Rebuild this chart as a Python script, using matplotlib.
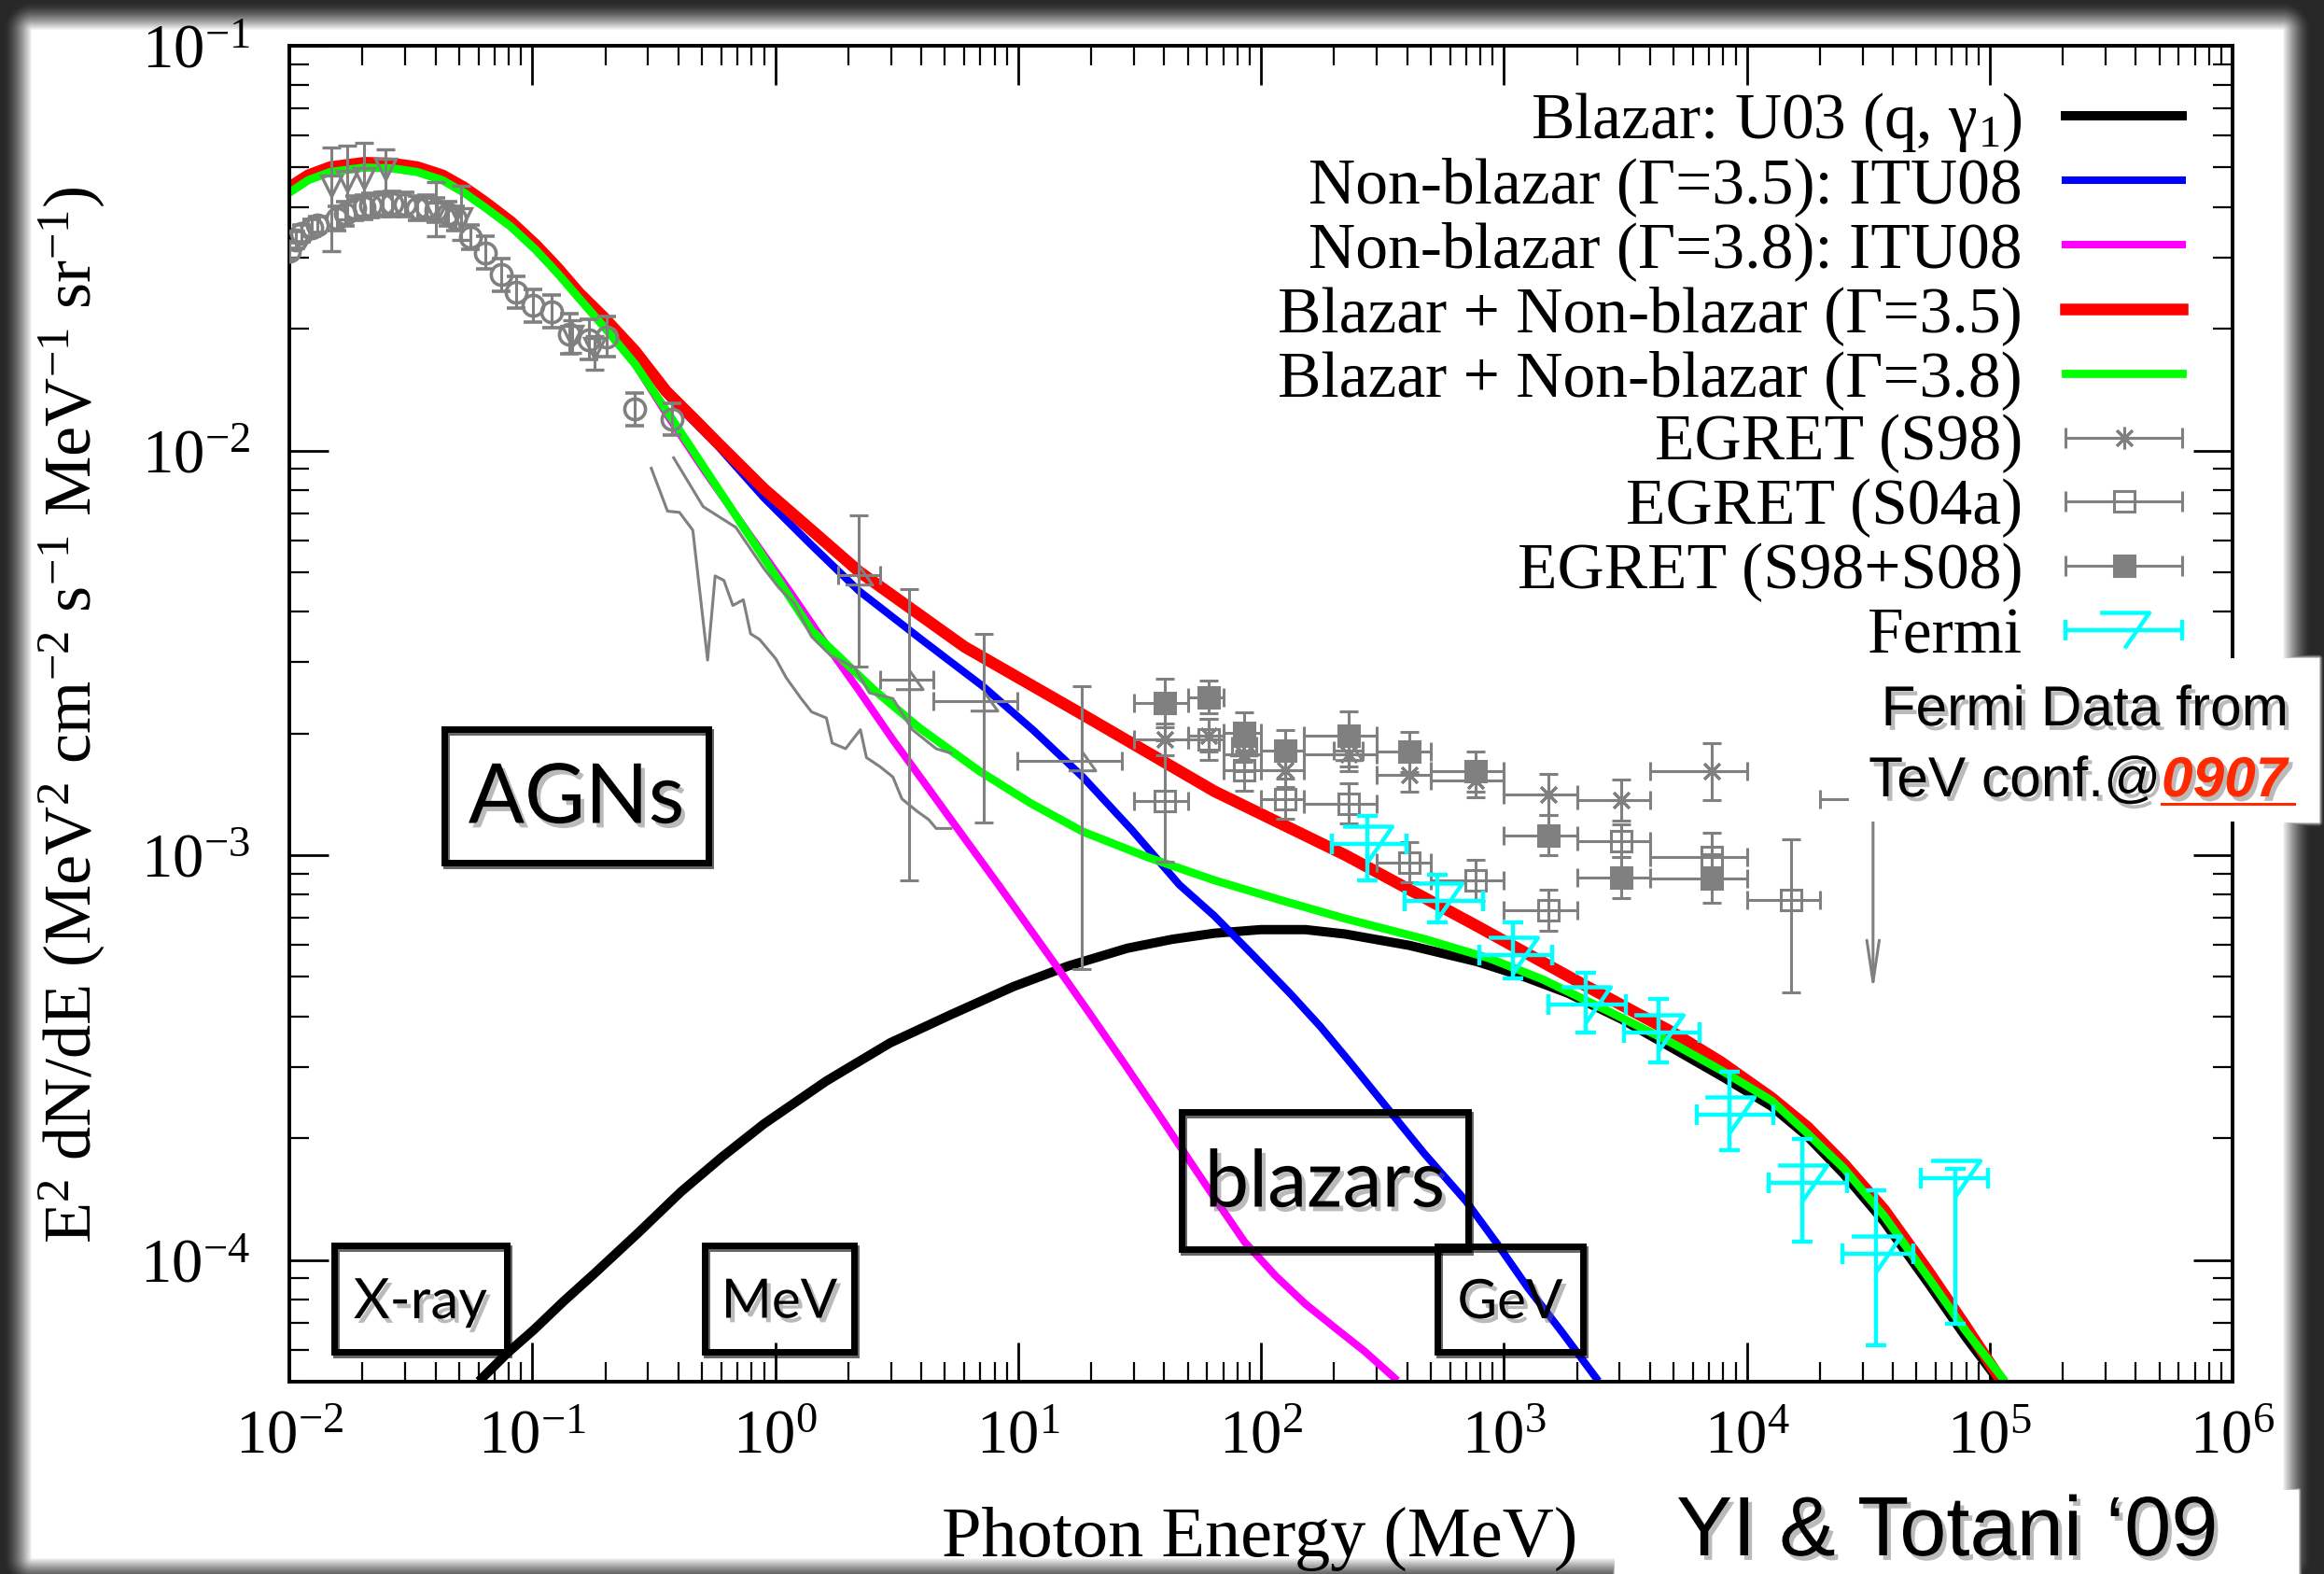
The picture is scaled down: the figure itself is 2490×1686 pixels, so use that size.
import numpy as np
import matplotlib as mpl
mpl.use('Agg')
import matplotlib.pyplot as plt
import matplotlib.patheffects as pe
from matplotlib.patches import Rectangle
from matplotlib.lines import Line2D
from matplotlib.ticker import LogFormatterMathtext, NullFormatter

plt.rcParams['font.family'] = ['Liberation Serif', 'DejaVu Serif']
plt.rcParams['mathtext.fontset'] = 'custom'
plt.rcParams['mathtext.rm'] = 'Liberation Serif'
plt.rcParams['mathtext.it'] = 'Liberation Serif:italic'
plt.rcParams['mathtext.bf'] = 'Liberation Serif:bold'

# ---- values: log10 E [MeV], log10 E^2 dN/dE ----
blazar_logE = [-1.206, -1.102, -0.992, -0.870, -0.748, -0.565, -0.388, -0.217, -0.046, 0.211,
               0.473, 0.724, 0.980, 1.206, 1.450, 1.634, 1.808, 2.000, 2.183, 2.348, 2.611,
               2.889, 3.087, 3.264, 3.484, 3.698, 3.899, 4.101, 4.247, 4.400, 4.565, 4.748,
               4.901, 5.029]
blazar_logF = [-4.292, -4.230, -4.172, -4.102, -4.036, -3.934, -3.832, -3.745, -3.664, -3.558,
               -3.464, -3.394, -3.325, -3.274, -3.230, -3.208, -3.193, -3.184, -3.184, -3.195,
               -3.223, -3.263, -3.301, -3.341, -3.405, -3.478, -3.547, -3.620, -3.693, -3.788,
               -3.905, -4.058, -4.190, -4.292]

top35_logE = [-2.000, -1.922, -1.832, -1.691, -1.576, -1.473, -1.370, -1.281, -1.191, -1.088,
              -0.986, -0.896, -0.807, -0.704]
top35_logF = [-1.350, -1.320, -1.300, -1.289, -1.291, -1.300, -1.320, -1.350, -1.388, -1.435,
              -1.492, -1.549, -1.611, -1.672]

nb35_logE = top35_logE + [-0.576, -0.448, -0.242, -0.046, 0.150, 0.345, 0.602, 0.858, 1.066,
                          1.267, 1.469, 1.664, 1.808, 1.969, 2.122, 2.244, 2.366, 2.519,
                          2.672, 2.843, 2.977, 3.099, 3.240, 3.380]
nb35_logF = top35_logF + [-1.763, -1.861, -1.985, -2.117, -2.234, -2.347, -2.467, -2.584,
                          -2.693, -2.807, -2.938, -3.073, -3.150, -3.248, -3.343, -3.423,
                          -3.511, -3.624, -3.737, -3.854, -3.964, -4.069, -4.179, -4.292]

sum35_logE = top35_logE + [-0.576, -0.448, -0.319, -0.242, -0.046, 0.150, 0.345, 0.779, 1.267,
                           1.808, 2.348, 2.889, 3.319, 3.698, 3.893, 4.101, 4.250, 4.400,
                           4.565, 4.748, 4.901, 5.041]
sum35_logF = top35_logF + [-1.755, -1.854, -1.931, -1.978, -2.095, -2.197, -2.299, -2.485,
                           -2.653, -2.842, -3.000, -3.175, -3.317, -3.439, -3.511, -3.599,
                           -3.672, -3.763, -3.876, -4.029, -4.164, -4.292]

top38_logE = [-2.000, -1.922, -1.832, -1.691, -1.576, -1.473, -1.370, -1.281, -1.191, -1.088,
              -0.986, -0.896, -0.807, -0.704, -0.576]
top38_logF = [-1.363, -1.332, -1.312, -1.301, -1.303, -1.312, -1.332, -1.363, -1.401, -1.447,
              -1.504, -1.562, -1.624, -1.695, -1.787]

nb38_logE = top38_logE + [-0.448, -0.290, -0.101, 0.046, 0.192, 0.339, 0.485, 0.614, 0.742,
                          0.919, 1.145, 1.298, 1.450, 1.573, 1.695, 1.817, 1.933, 2.061,
                          2.183, 2.305, 2.427, 2.550]
nb38_logF = top38_logF + [-1.909, -2.051, -2.212, -2.336, -2.464, -2.588, -2.715, -2.821,
                          -2.927, -3.073, -3.263, -3.394, -3.526, -3.635, -3.745, -3.854,
                          -3.956, -4.040, -4.109, -4.168, -4.226, -4.292]

sum38_logE = top38_logE + [-0.448, -0.046, 0.150, 0.406, 0.595, 0.840, 1.053, 1.267, 1.542,
                           1.808, 2.092, 2.348, 2.672, 2.941, 3.160, 3.435, 3.698, 3.899,
                           4.101, 4.247, 4.400, 4.565, 4.748, 4.901, 5.053]
sum38_logF = top38_logF + [-1.901, -2.266, -2.445, -2.591, -2.686, -2.792, -2.872, -2.942,
                           -3.007, -3.062, -3.113, -3.157, -3.207, -3.255, -3.307, -3.387,
                           -3.466, -3.533, -3.606, -3.686, -3.774, -3.891, -4.044, -4.175,
                           -4.292]

# X-ray background points (open circles)
xray_logE = [-2.000, -1.973, -1.951, -1.909, -1.884, -1.805, -1.768, -1.731, -1.691, -1.664,
             -1.614, -1.579, -1.524, -1.475, -1.434, -1.395, -1.345, -1.316, -1.255, -1.194,
             -1.127, -1.066, -0.998, -0.919, -0.846, -0.766, -0.693, -0.577, -0.424]
xray_logF = [-1.507, -1.480, -1.464, -1.450, -1.442, -1.427, -1.415, -1.401, -1.400, -1.394,
             -1.392, -1.391, -1.392, -1.401, -1.400, -1.405, -1.415, -1.427, -1.474, -1.511,
             -1.566, -1.609, -1.642, -1.657, -1.712, -1.726, -1.719, -1.898, -1.923]
xray_err = [0.02, 0.02, 0.02, 0.02, 0.02, 0.03, 0.03, 0.03, 0.03, 0.03,
            0.03, 0.03, 0.03, 0.03, 0.03, 0.03, 0.03, 0.03, 0.03, 0.04,
            0.04, 0.04, 0.04, 0.04, 0.05, 0.05, 0.05, 0.04, 0.04]

# hard X-ray points (open down triangles)
hx_logE = [-1.826, -1.762, -1.691, -1.603, -1.395, -1.294, -0.834, -0.742]
hx_logF = [-1.346, -1.335, -1.327, -1.304, -1.412, -1.427, -1.718, -1.748]
hx_hi = [-1.251, -1.247, -1.239, -1.255, -1.336, -1.347, -1.679, -1.718]
hx_lo = [-1.507, -1.430, -1.420, -1.360, -1.470, -1.480, -1.760, -1.800]

# MeV spectra (gray lines)
smm_logE = [-0.510, -0.443, -0.394, -0.339, -0.278, -0.247, -0.211, -0.174, -0.131, -0.101,
            -0.064, 0.003, 0.046, 0.107, 0.150, 0.211, 0.235, 0.290, 0.351, 0.376, 0.431,
            0.485, 0.522, 0.583, 0.632, 0.663, 0.724]
smm_logF = [-2.044, -2.150, -2.153, -2.197, -2.518, -2.310, -2.321, -2.383, -2.369, -2.453,
            -2.467, -2.515, -2.562, -2.613, -2.646, -2.661, -2.723, -2.737, -2.690, -2.759,
            -2.781, -2.807, -2.861, -2.891, -2.912, -2.934, -2.934]
comptel_line_logE = [-0.418, -0.296, -0.162, -0.046, 0.015, 0.076, 0.150, 0.229, 0.327, 0.388,
                     0.485, 0.565, 0.663, 0.724]
comptel_line_logF = [-2.018, -2.139, -2.190, -2.292, -2.339, -2.376, -2.460, -2.507, -2.536,
                     -2.599, -2.613, -2.690, -2.737, -2.748]

# COMPTEL points (open up triangles)
comptel_logE = [0.345, 0.550, 0.858, 1.261, 1.927, 2.360]
comptel_logF = [-2.308, -2.566, -2.620, -2.768, -2.730, -2.741]
comptel_hi = [-2.161, -2.343, -2.453, -2.582, -2.690, -2.700]
comptel_lo = [-2.533, -3.062, -2.920, -3.281, -2.770, -2.780]
comptel_xlo = [0.260, 0.431, 0.650, 0.998, 1.880, 2.300]
comptel_xhi = [0.431, 0.650, 0.998, 1.426, 1.980, 2.420]

# EGRET energy bins [MeV]
egret_lo = [30, 50, 70, 100, 150, 300, 500, 1000, 2000, 4000, 10000, 20000]
egret_hi = [50, 70, 100, 150, 300, 500, 1000, 2000, 4000, 10000, 20000, 50000]
egret_logE = [1.603, 1.786, 1.930, 2.100, 2.362, 2.610, 2.882, 3.185, 3.482, 3.854, 4.183, 4.520]

s98_logF = [-2.714, -2.704, -2.752, -2.791, -2.752, -2.802, -2.816, -2.850, -2.864, -2.793]
s98_err = [0.04, 0.04, 0.04, 0.04, 0.04, 0.04, 0.04, 0.05, 0.05, 0.07]
s98_ul_logF = -2.861      # last bin, drawn as upper limit
s98_ul_end = -3.343

s04_logF = [-2.867, -2.714, -2.791, -2.861, -2.872, -3.018, -3.062, -3.136, -2.965, -3.004, -3.110]
s04_lo = [0.15, 0.05, 0.05, 0.05, 0.05, 0.05, 0.05, 0.05, 0.04, 0.06, 0.23]
s04_hi = [0.15, 0.05, 0.05, 0.05, 0.05, 0.05, 0.05, 0.05, 0.04, 0.06, 0.15]

s08_logF = [-2.624, -2.609, -2.697, -2.741, -2.705, -2.745, -2.793, -2.951, -3.055, -3.057]
s08_err = [0.06, 0.04, 0.05, 0.05, 0.06, 0.05, 0.05, 0.05, 0.05, 0.06]

# Fermi points
fermi_logE = [2.437, 2.726, 3.036, 3.339, 3.635, 3.930, 4.229, 4.534, 4.858]
fermi_logF = [-2.973, -3.114, -3.246, -3.369, -3.439, -3.642, -3.810, -3.985, -3.799]
fermi_lo = [-3.062, -3.167, -3.304, -3.439, -3.511, -3.730, -3.956, -4.212, -4.157]
fermi_hi = [-2.904, -3.049, -3.167, -3.290, -3.356, -3.536, -3.701, -3.828, -3.774]
fermi_xlo = [2.293, 2.591, 2.901, 3.185, 3.495, 3.795, 4.089, 4.394, 4.718]
fermi_xhi = [2.598, 2.915, 3.197, 3.502, 3.806, 4.111, 4.412, 4.687, 4.992]

GRAY = '#808080'
CYAN = '#00ffff'

W, H = 2490, 1686
fig = plt.figure(figsize=(W / 100, H / 100), dpi=100)

# slide background with dark vignetted frame
yy, xx = np.mgrid[0:H, 0:W]
def soft_box(x0, x1, y0, y1, soft):
    dx = np.clip(np.maximum(x0 - xx, xx - x1), 0, None)
    dy = np.clip(np.maximum(y0 - yy, yy - y1), 0, None)
    return np.clip(1 - np.hypot(dx, dy) / soft, 0, 1)
light = np.maximum.reduce([soft_box(34, 2445, 32, 1668, 30),
                           soft_box(1981, 2484, 705, 880, 5),
                           soft_box(1730, 2462, 1596, 1700, 5)])
shade = 0.16 + 0.84 * light ** 1.5
fig.figimage(np.dstack([shade] * 3), 0, 0, origin='upper', zorder=-10)

ax = fig.add_axes([310 / W, 1 - 1480 / H, 2082 / W, 1431 / H])
ax.patch.set_visible(False)
ax.set_xscale('log')
ax.set_yscale('log')
xmin, xmax, ymin, ymax = 1e-2, 1e6, 5e-5, 1e-1
ax.set_xlim(xmin, xmax)
ax.set_ylim(ymin, ymax)


def P(a):
    return 10 ** np.asarray(a, float)


# model curves
ax.plot(P(blazar_logE), P(blazar_logF), color='black', lw=7.2, zorder=2)
ax.plot(P(nb35_logE), P(nb35_logF), color='#0000ff', lw=5.8, zorder=2.1)
ax.plot(P(nb38_logE), P(nb38_logF), color='#ff00ff', lw=5.8, zorder=2.2)
ax.plot(P(sum35_logE), P(sum35_logF), color='#ff0000', lw=9, zorder=2.3)
ax.plot(P(sum38_logE), P(sum38_logF), color='#00ff00', lw=6.3, zorder=2.4)

# data
ebkw = dict(ecolor=GRAY, elinewidth=2.2, capsize=7.5, capthick=2.2, zorder=3)
tri_up = [(-1, -0.7), (1, -0.7), (0, 0.7)]
tri_dn = [(-1, 0.72), (1, 0.72), (0, -0.72)]

F = P(xray_logF)
ax.errorbar(P(xray_logE), F, yerr=[F - F / P(xray_err), F * P(xray_err) - F], fmt='o',
            ms=16, mfc='none', mec=GRAY, mew=2.6, **ebkw)
F = P(hx_logF)
ax.errorbar(P(hx_logE), F, yerr=[F - P(hx_lo), P(hx_hi) - F], fmt='v', ms=16,
            mfc='none', mec=GRAY, mew=2.4, **ebkw)
ax.plot(P(smm_logE), P(smm_logF), color=GRAY, lw=2.2, zorder=3)
ax.plot(P(comptel_line_logE), P(comptel_line_logF), color=GRAY, lw=2.2, zorder=3)
E, F = P(comptel_logE), P(comptel_logF)
ax.errorbar(E, F, yerr=[F - P(comptel_lo), P(comptel_hi) - F],
            xerr=[E - P(comptel_xlo), P(comptel_xhi) - E], fmt='none', **ebkw)
ax.plot(E, F, ls='none', marker=tri_up, ms=21, mfc='none', mec=GRAY, mew=2.2, zorder=3)

E = P(egret_logE)
elo, ehi = np.array(egret_lo, float), np.array(egret_hi, float)
F = P(s98_logF); n = len(F)
ax.errorbar(E[:n], F, yerr=[F - F / P(s98_err), F * P(s98_err) - F],
            xerr=[E[:n] - elo[:n], ehi[:n] - E[:n]], fmt='none', **ebkw)
ax.plot(E[:n], F, ls='none', marker=(8, 2, 0), ms=17, mec=GRAY, mew=2.2, zorder=3)
ax.errorbar([E[11]], [P(s98_ul_logF)], xerr=[[E[11] - elo[11]], [ehi[11] - E[11]]],
            fmt='none', **ebkw)
ax.annotate('', xy=(E[11], P(s98_ul_end)), xytext=(E[11], P(s98_ul_logF)),
            arrowprops=dict(arrowstyle='->,head_length=0.8,head_width=0.12',
                            color=GRAY, lw=2.2, mutation_scale=40), zorder=3)
F = P(s04_logF); n = len(F)
ax.errorbar(E[:n], F, yerr=[F - F / P(s04_lo), F * P(s04_hi) - F],
            xerr=[E[:n] - elo[:n], ehi[:n] - E[:n]], fmt='s', ms=16, mfc='none',
            mec=GRAY, mew=2.2, **ebkw)
F = P(s08_logF); n = len(F)
ax.errorbar(E[:n], F, yerr=[F - F / P(s08_err), F * P(s08_err) - F],
            xerr=[E[:n] - elo[:n], ehi[:n] - E[:n]], fmt='s', ms=16, mfc=GRAY,
            mec=GRAY, mew=2.2, **ebkw)

E, F = P(fermi_logE), P(fermi_logF)
ax.errorbar(E, F, yerr=[F - P(fermi_lo), P(fermi_hi) - F],
            xerr=[E - P(fermi_xlo), P(fermi_xhi) - E], fmt='none', ecolor=CYAN,
            elinewidth=3.2, capsize=8, capthick=3.2, zorder=4)
ax.plot(E, F, ls='none', marker=tri_dn, ms=38, mfc='none', mec=CYAN, mew=3.2, zorder=4)

# axes styling: decade ticks only inside the view
for s in ax.spines.values():
    s.set_linewidth(2.8)
def decade_ticks(lo, hi):
    k = np.arange(np.floor(np.log10(lo)), np.ceil(np.log10(hi)) + 1)
    major = 10.0 ** k
    minor = np.outer(10.0 ** k, np.arange(2, 10)).ravel()
    keep = lambda v: v[(v >= lo * 0.999) & (v <= hi * 1.001)]
    return keep(major), keep(minor)
mx, nx = decade_ticks(xmin, xmax)
my, ny = decade_ticks(ymin, ymax)
ax.set_xticks(mx)
ax.set_xticks(nx, minor=True)
ax.set_yticks(my)
ax.set_yticks(ny, minor=True)
for axis in (ax.xaxis, ax.yaxis):
    axis.set_major_formatter(LogFormatterMathtext())
    axis.set_minor_formatter(NullFormatter())
ax.tick_params(which='both', direction='in', top=True, right=True, labelsize=48)
ax.tick_params(which='major', length=30, width=2)
ax.tick_params(which='minor', length=15, width=1.6)
ax.tick_params(axis='x', pad=21)
ax.tick_params(axis='y', pad=30)

ax.set_xlabel('Photon Energy (MeV)', fontsize=55)
ax.xaxis.set_label_coords(0.4993, -0.1307)
ax.xaxis.label.set_va('baseline')
ax.set_ylabel(r'E$^2$ dN/dE (MeV$^2$ cm$^{-2}$ s$^{-1}$ MeV$^{-1}$ sr$^{-1}$)', fontsize=52)
ax.yaxis.set_label_coords(-0.112, 0.499)
ax.yaxis.label.set_va('center')

# legend drawn by hand, gnuplot style (text right-aligned, key on the right)
def ax_x(xp):
    return (xp - 310) / 2082
def ax_y(yp):
    return (1480 - yp) / 1431

leg_labels = [r'Blazar: U03 (q, $\mathrm{\gamma}_1$)', 'Non-blazar (Γ=3.5): ITU08',
              'Non-blazar (Γ=3.8): ITU08', 'Blazar + Non-blazar (Γ=3.5)',
              'Blazar + Non-blazar (Γ=3.8)', 'EGRET (S98)', 'EGRET (S04a)',
              'EGRET (S98+S08)', 'Fermi']
leg_lines = [('black', 7.2), ('#0000ff', 5.8), ('#ff00ff', 5.8), ('#ff0000', 9), ('#00ff00', 6.3)]
leg_marks = [dict(marker=(8, 2, 0), ms=17, mfc=GRAY, mec=GRAY, mew=2.2),
             dict(marker='s', ms=16, mfc='none', mec=GRAY, mew=2.2),
             dict(marker='s', ms=16, mfc=GRAY, mec=GRAY, mew=2.2),
             dict(marker=tri_dn, ms=38, mfc='none', mec=CYAN, mew=3.2)]
kx0, kx1 = ax_x(2213), ax_x(2338)
for i, lab in enumerate(leg_labels):
    yp = 124 + 68.9 * i
    ax.text(ax_x(2167), ax_y(yp + 24), lab, fontsize=50, ha='right', va='baseline',
            transform=ax.transAxes, zorder=7)
    if i < 5:
        c, lw = leg_lines[i]
        ax.add_line(Line2D([kx0, kx1], [ax_y(yp)] * 2, color=c, lw=lw,
                           transform=ax.transAxes, zorder=7))
    else:
        mk = leg_marks[i - 5]
        c = mk['mec']
        lw = 3.2 if c == CYAN else 2.2
        ax.add_line(Line2D([kx0, kx1], [ax_y(yp)] * 2, color=c, lw=lw,
                           transform=ax.transAxes, zorder=7))
        ax.add_line(Line2D([kx0, kx1], [ax_y(yp)] * 2, ls='none', marker='|', ms=16,
                           mew=lw, color=c, transform=ax.transAxes, zorder=7))
        ax.add_line(Line2D([(kx0 + kx1) / 2], [ax_y(yp)], ls='none',
                           transform=ax.transAxes, zorder=7.5, **mk))

# labelled boxes
shadow = [pe.SimplePatchShadow(offset=(3, -3.5), shadow_rgbFace='#666666', alpha=0.45), pe.Normal()]
box_shadow = [pe.SimpleLineShadow(offset=(1.5, -2.5), shadow_color='black', alpha=0.6), pe.Normal()]
boxes = [('AGNs', 476, 781, 759, 924, 64),
         ('X-ray', 358, 1334, 543, 1448, 43),
         ('MeV', 755, 1334, 915, 1448, 42),
         ('blazars', 1266, 1191, 1573, 1338, 61),
         ('GeV', 1540, 1335, 1696, 1448, 42)]
for txt, x0, y0, x1, y1, fs in boxes:
    ax.add_patch(Rectangle((ax_x(x0), ax_y(y1)), ax_x(x1) - ax_x(x0), ax_y(y0) - ax_y(y1),
                           transform=ax.transAxes, fill=False, ec='black', lw=5,
                           zorder=6, path_effects=box_shadow, clip_on=False))
    ax.text(ax_x((x0 + x1) / 2), ax_y((y0 + y1) / 2 + 4), txt, family=['Lato', 'DejaVu Sans'],
            fontsize=fs, ha='center', va='center', transform=ax.transAxes, zorder=6.5,
            path_effects=shadow)

# Fermi note box on top of the plot
fig.add_artist(Rectangle((1981 / W, 1 - 880 / H), (2484 - 1981) / W, (880 - 705) / H,
                         transform=fig.transFigure, fc='white', ec='none', zorder=2))
sans = ['Liberation Sans', 'DejaVu Sans']
fig.text(2233.6 / W, 1 - 777 / H, 'Fermi Data from', family=sans, fontsize=43.5,
         ha='center', va='baseline', zorder=3, path_effects=shadow)
fig.text(2315 / W, 1 - 853 / H, 'TeV conf.@', family=sans, fontsize=43.5,
         ha='right', va='baseline', zorder=3, path_effects=shadow)
fig.text(2316 / W, 1 - 853 / H, '0907', family=sans, fontsize=43.5, weight='bold',
         style='italic', color='#ff2a00', ha='left', va='baseline', zorder=3,
         path_effects=shadow)
fig.add_artist(Line2D([2316 / W, 2458 / W], [1 - 861 / H] * 2, color='#ff2a00', lw=2.2,
                      transform=fig.transFigure, zorder=3))

fig.text(1796 / W, 1 - 1666 / H, 'YI & Totani \u201809', family=sans, fontsize=65,
         ha='left', va='baseline', zorder=3, path_effects=shadow)

fig.savefig('out.png', dpi=100)
